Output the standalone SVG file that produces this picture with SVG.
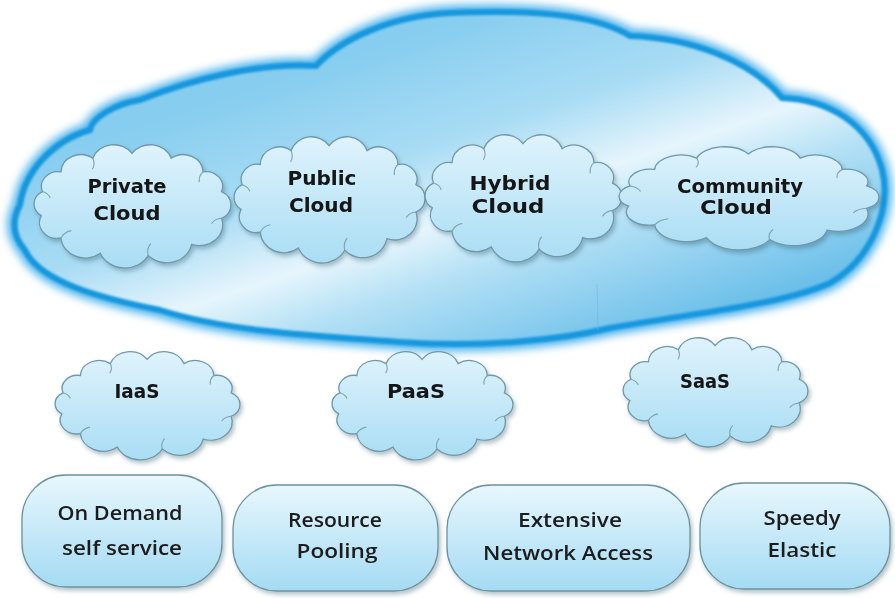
<svg xmlns="http://www.w3.org/2000/svg" xmlns:xlink="http://www.w3.org/1999/xlink" width="895" height="598" viewBox="0 0 895 598">
  <defs>
    <style>
      .cl { fill: url(#cloudFill); stroke: #6f98a8; stroke-width: 1.3; }
      .cl, .inner { vector-effect: non-scaling-stroke; }
      .inner { fill: none; stroke: #7ea3b2; stroke-width: 1.1; }
      .box { fill: url(#boxFill); stroke: #6d929f; stroke-width: 1.3; }
      .lbl { font-family: "DejaVu Sans", "Liberation Sans", sans-serif; font-weight: bold; font-size: 19px; fill: #141414; text-anchor: middle; }
      .btxt { font-family: "Open Sans", "Liberation Sans", sans-serif; font-weight: 600; font-size: 20px; fill: #1c1c1c; text-anchor: middle; }
    </style>
    <linearGradient id="bigFill" gradientUnits="userSpaceOnUse" x1="390" y1="40" x2="510" y2="400">
      <stop offset="0" stop-color="#86cdef"/>
      <stop offset="0.3" stop-color="#a9dcf4"/>
      <stop offset="0.5" stop-color="#e6f5fc"/>
      <stop offset="0.65" stop-color="#b3e0f5"/>
      <stop offset="1" stop-color="#62bbe8"/>
    </linearGradient>
    <linearGradient id="cloudFill" x1="0" y1="0" x2="0" y2="1">
      <stop offset="0" stop-color="#dff3fc"/>
      <stop offset="1" stop-color="#a9ddf4"/>
    </linearGradient>
    <linearGradient id="boxFill" x1="0" y1="0" x2="0" y2="1">
      <stop offset="0" stop-color="#e8f7fd"/>
      <stop offset="1" stop-color="#a4dbf3"/>
    </linearGradient>
    <filter id="glow" x="-5%" y="-10%" width="110%" height="120%">
      <feGaussianBlur stdDeviation="4"/>
    </filter>
    <filter id="soft" x="-5%" y="-10%" width="110%" height="120%">
      <feGaussianBlur stdDeviation="1"/>
    </filter>
    <filter id="sh" x="-10%" y="-10%" width="125%" height="130%">
      <feDropShadow dx="2" dy="3" stdDeviation="2" flood-color="#2a5668" flood-opacity="0.35"/>
    </filter>
    <!-- generic scalloped cloud, bounding box approx 11.2..189.6 x 9.5..133.8 -->
    <g id="cloudShape">
      <path class="cl" d="M 18.9 56.5 A 15 15 0 0 1 35.7 36.6 A 18 18 0 0 1 64.5 22.9 A 20 20 0 0 1 100 18 A 20 20 0 0 1 135.5 22.9 A 18 18 0 0 1 164.3 36.6 A 15 15 0 0 1 181.1 56.5 A 15 15 0 0 1 181.1 83.5 A 21 21 0 0 1 154.0 109.8 A 23 23 0 0 1 114.6 121.2 A 24 24 0 0 1 71.3 118.9 A 22 22 0 0 1 35.7 103.4 A 16 16 0 0 1 17.8 80.8 A 14 14 0 0 1 18.9 56.5 Z"/>
      <path class="inner" d="M 64.5 22.9 Q 67 29 64 34 M 164.3 36.6 Q 160 41 161 47 M 181.1 83.5 Q 175 84 172 89 M 114.6 121.2 Q 113 114 117 109 M 35.7 103.4 Q 39 97 45 96 M 18.9 56.5 Q 24 58 26 63"/>
    </g>
    <path id="bigOutline" d="M 20,205 C 25,170 55,140 90,130 C 92,118 115,104 140,100 C 190,80 260,62 316,66 C 340,40 390,16 450,13 C 520,10 590,12 630,36 C 690,38 750,60 782,98 C 830,100 870,125 882,170 C 892,210 870,260 830,283 C 780,305 700,312 610,328 C 560,340 480,348 400,342 C 320,336 230,332 160,310 C 100,298 40,282 25,250 C 12,235 12,220 20,205 Z"/>
  </defs>

  <rect width="895" height="598" fill="#ffffff"/>

  <!-- outer cloud holding the deployment models -->
  <g id="cloud-deployment">
    <use xlink:href="#bigOutline" fill="none" stroke="#4fb4ec" stroke-width="15" filter="url(#glow)"/>
    <use xlink:href="#bigOutline" fill="url(#bigFill)"/>
    <use xlink:href="#bigOutline" fill="none" stroke="#1897de" stroke-width="6" filter="url(#soft)"/>
    <path d="M 597,284 L 598,330" stroke="#6fb8dd" stroke-width="1" opacity="0.6"/>
  </g>

  <g id="private-cloud" filter="url(#sh)">
    <use xlink:href="#cloudShape" transform="translate(21.6 135.6) scale(1.104 0.99)"/>
    <text class="lbl" x="127" y="193" textLength="79" lengthAdjust="spacingAndGlyphs">Private</text>
    <text class="lbl" x="127" y="220" textLength="67" lengthAdjust="spacingAndGlyphs">Cloud</text>
  </g>
  <g id="public-cloud" filter="url(#sh)">
    <use xlink:href="#cloudShape" transform="translate(222 127.4) scale(1.071 1.014)"/>
    <text class="lbl" x="322" y="185" textLength="69" lengthAdjust="spacingAndGlyphs">Public</text>
    <text class="lbl" x="321" y="212" textLength="64" lengthAdjust="spacingAndGlyphs">Cloud</text>
  </g>
  <g id="hybrid-cloud" filter="url(#sh)">
    <use xlink:href="#cloudShape" transform="translate(412.6 125.3) scale(1.104 1.022)"/>
    <text class="lbl" x="510" y="190" textLength="81" lengthAdjust="spacingAndGlyphs">Hybrid</text>
    <text class="lbl" x="508" y="213" textLength="73" lengthAdjust="spacingAndGlyphs">Cloud</text>
  </g>
  <g id="community-cloud" filter="url(#sh)">
    <use xlink:href="#cloudShape" transform="translate(602.7 139.1) scale(1.457 0.829)"/>
    <text class="lbl" x="740" y="193" textLength="126" lengthAdjust="spacingAndGlyphs">Community</text>
    <text class="lbl" x="736" y="214" textLength="72" lengthAdjust="spacingAndGlyphs">Cloud</text>
  </g>

  <!-- service models -->
  <g id="iaas" filter="url(#sh)">
    <use xlink:href="#cloudShape" transform="translate(43.4 343.7) scale(1.037 0.869)"/>
    <text class="lbl" x="137" y="398" textLength="45" lengthAdjust="spacingAndGlyphs">IaaS</text>
  </g>
  <g id="paas" filter="url(#sh)">
    <use xlink:href="#cloudShape" transform="translate(320.6 343.7) scale(1.015 0.869)"/>
    <text class="lbl" x="416" y="398" textLength="58" lengthAdjust="spacingAndGlyphs">PaaS</text>
  </g>
  <g id="saas" filter="url(#sh)">
    <use xlink:href="#cloudShape" transform="translate(611.4 329.7) scale(1.037 0.877)"/>
    <text class="lbl" x="705" y="388" textLength="50" lengthAdjust="spacingAndGlyphs">SaaS</text>
  </g>

  <!-- essential characteristics -->
  <g id="on-demand" filter="url(#sh)">
    <rect class="box" x="22" y="475" width="200" height="112" rx="44" ry="44"/>
    <text class="btxt" x="120" y="520" textLength="125" lengthAdjust="spacingAndGlyphs">On Demand</text>
    <text class="btxt" x="122" y="555" textLength="120" lengthAdjust="spacingAndGlyphs">self service</text>
  </g>
  <g id="resource-pooling" filter="url(#sh)">
    <rect class="box" x="233" y="485" width="205" height="106" rx="44" ry="44"/>
    <text class="btxt" x="335" y="527" textLength="94" lengthAdjust="spacingAndGlyphs">Resource</text>
    <text class="btxt" x="337" y="558" textLength="81" lengthAdjust="spacingAndGlyphs">Pooling</text>
  </g>
  <g id="network-access" filter="url(#sh)">
    <rect class="box" x="447" y="485" width="243" height="106" rx="44" ry="44"/>
    <text class="btxt" x="570" y="527" textLength="104" lengthAdjust="spacingAndGlyphs">Extensive</text>
    <text class="btxt" x="568" y="560" textLength="170" lengthAdjust="spacingAndGlyphs">Network Access</text>
  </g>
  <g id="speedy-elastic" filter="url(#sh)">
    <rect class="box" x="700" y="483" width="190" height="106" rx="44" ry="44"/>
    <text class="btxt" x="802" y="525" textLength="77" lengthAdjust="spacingAndGlyphs">Speedy</text>
    <text class="btxt" x="802" y="557" textLength="69" lengthAdjust="spacingAndGlyphs">Elastic</text>
  </g>

  <g id="connectors"/>
</svg>
